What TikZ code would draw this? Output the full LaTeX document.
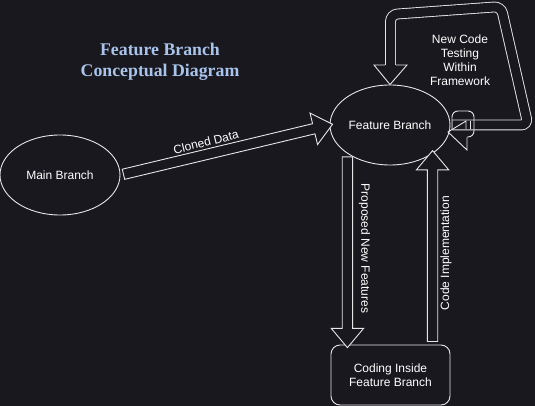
\documentclass[tikz,border=0pt]{standalone}
\usepackage{fontspec}
\setmainfont{Liberation Sans}
\newfontfamily\titlefont{Liberation Serif}
\usetikzlibrary{shapes.geometric,shapes.arrows,calc}
\definecolor{bg}{HTML}{1A181F}
\definecolor{ln}{HTML}{E6E6E6}
\definecolor{ttl}{HTML}{A9C4EB}
\begin{document}
\begin{tikzpicture}[x=1pt,y=-1pt,
  every node/.style={font=\fontsize{12}{14}\selectfont, text=white},
  oval/.style={ellipse, draw=ln, line width=0.9pt, minimum width=120pt, minimum height=80pt, inner sep=0pt},
  box/.style={rectangle, rounded corners=9pt, draw=ln, line width=0.9pt, minimum width=119pt, minimum height=60pt, align=center, inner sep=0pt},
  harrow/.style={single arrow, draw=ln, line width=0.9pt, fill=bg, inner xsep=0pt, inner ysep=0pt, text height=5pt, text depth=4.5pt, single arrow head extend=11pt, single arrow tip angle=80, anchor=center},
  lbl/.style={align=center, inner sep=0pt},
  loopline/.style={draw=ln, line width=0.9pt, double=bg, double distance=9pt, rounded corners=7pt},
  thinline/.style={draw=ln, line width=0.9pt}]
\fill[bg] (0,0) rectangle (535,406);
\useasboundingbox (0,0) rectangle (535,406);

\node[lbl, font=\titlefont\bfseries\fontsize{17.8}{21}\selectfont, text=ttl] (title) at (160,61.5) {Feature Branch\\Conceptual Diagram};

\node[oval] (mb) at (60,175) {Main Branch};
\node[oval] (fb) at (390,125) {Feature Branch};
\node[box] (cf) at (390.5,375) {Coding Inside\\Feature Branch};

% Cloned Data
\path let \p1=(mb.east), \p2=(fb.west), \n1={atan2(\y2-\y1,\x2-\x1)}, \n2={veclen(\x2-\x1,\y2-\y1)} in
  node[harrow, rotate=\n1, minimum height=\n2] (a1) at ($(mb.east)!0.5!(fb.west)$) {};
\node[lbl, rotate=13.9] (l1) at (206,142) {Cloned Data};

% Proposed New Features (down)
\coordinate (d1) at (fb.-146);
\coordinate (d2) at (d1 |- cf.north);
\path let \p1=(d1), \p2=(d2), \n1={atan2(\y2-\y1,\x2-\x1)}, \n2={veclen(\x2-\x1,\y2-\y1)} in
  node[harrow, rotate=\n1, minimum height=\n2] (a2) at ($(d1)!0.5!(d2)$) {};
\node[lbl, rotate=-90] (l2) at (364.5,248.5) {Proposed New Features};

% Code Implementation (up)
\coordinate (u2) at (fb.-34);
\coordinate (u1) at (u2 |- cf.north);
\path let \p1=(u1), \p2=(u2), \n1={atan2(\y2-\y1,\x2-\x1)}, \n2={veclen(\x2-\x1,\y2-\y1)} in
  node[harrow, rotate=\n1, minimum height=\n2] (a3) at ($(u1)!0.5!(u2)$) {};
\node[lbl, rotate=90] (l3) at (446,253) {Code Implementation};

% Loop: New Code Testing Within Framework
\coordinate (l0) at ($(fb.east)+(2,0)$);
\coordinate (lend) at (390.5,65);
\draw[loopline] (l0) -- (528,125) -- (501,6.5) -- (390.5,14.5) -- (lend);
\draw[thinline] (385.1,65) -- (374,65) -- (fb.north) -- (407,65) -- (395.9,65);
\node[lbl] (l4) at (460,60) {New Code\\Testing\\Within\\Framework};

% small hook at loop start
\draw[thinline, rounded corners=6pt] (452,129) -- (452,111) -- (474,111) -- (474,137) -- (467,137);
\draw[thinline] (467,137.5) -- (467,150) -- (448,132) -- (466,121) -- (466,129);
\draw[thinline] (470,121) -- (470,129);
\end{tikzpicture}
\end{document}
